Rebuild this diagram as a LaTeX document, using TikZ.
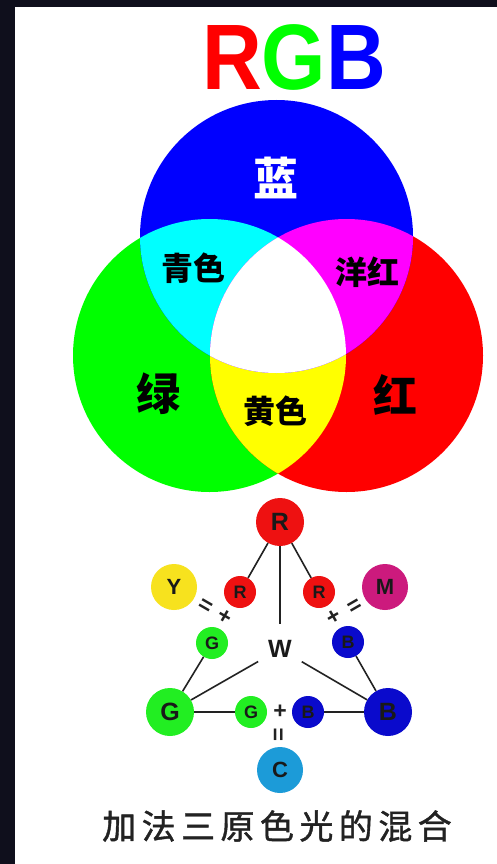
\documentclass[tikz,border=0pt]{standalone}
\usepackage{fontspec}
\setmainfont{Liberation Sans}
\newfontfamily\cjk{Noto Sans CJK SC}
\newfontfamily\cjkcap[LetterSpace=16, FakeBold=1.2]{Noto Sans CJK SC}
\usetikzlibrary{positioning}
\definecolor{cframe}{HTML}{0F0F1C}
\definecolor{cred}{HTML}{FF0000}
\definecolor{cgreen}{HTML}{00FF00}
\definecolor{cblue}{HTML}{0000FF}
\definecolor{ccyan}{HTML}{00FFFF}
\definecolor{cmag}{HTML}{FF00FF}
\definecolor{cyel}{HTML}{FFFF00}
\definecolor{dred}{HTML}{EE1111}
\definecolor{dgreen}{HTML}{22EE22}
\definecolor{dblue}{HTML}{0A0ACC}
\definecolor{dyel}{HTML}{F7E21E}
\definecolor{dmag}{HTML}{CC1A7D}
\definecolor{dcyan}{HTML}{1C9BD8}
\definecolor{cline}{HTML}{222222}
\newcommand{\fs}[1]{\fontsize{#1}{#1}\selectfont}
\tikzset{
  every picture/.style={x=1pt, y=-1pt},
  big/.style={circle, fill=#1, minimum size=48pt, inner sep=0pt, font=\fs{25}\bfseries, text=black!90},
  small/.style={circle, fill=#1, minimum size=32pt, inner sep=0pt, font=\fs{18}\bfseries, text=black!90},
  mix/.style={circle, fill=#1, minimum size=46pt, inner sep=0pt, font=\fs{22}\bfseries, text=black!90},
  op/.style={font=\fs{23}\bfseries, text=cline, inner sep=0pt},
  link/.style={draw=cline, line width=1.6pt},
  zh/.style={font=\cjk\bfseries\fs{#1}, inner sep=0pt},
}

\begin{document}
\begin{tikzpicture}
  \useasboundingbox (0,0) rectangle (497,864);
  \fill[white] (0,0) rectangle (497,864);
  \fill[cframe] (0,0) rectangle (497,7);
  \fill[cframe] (0,0) rectangle (15,864);
  % title
  \node[inner sep=0pt] (title) at (294,57) {\fs{93}\bfseries\scalebox{0.89}[1]{\textcolor{cred}{R}\textcolor{cgreen}{G}\textcolor{cblue}{B}}};
  % three circles, mixed by clipping
  \coordinate (cb) at (276.5,236.5);
  \coordinate (cg) at (209.5,355.5);
  \coordinate (cr) at (346.5,355.5);
  \fill[cgreen] (cg) circle (136.5);
  \fill[cred] (cr) circle (136.5);
  \fill[cblue] (cb) circle (136.5);
  \begin{scope}
    \clip (cg) circle (136.5);
    \fill[cyel] (cr) circle (136.5);
    \fill[ccyan] (cb) circle (136.5);
  \end{scope}
  \begin{scope}
    \clip (cr) circle (136.5);
    \fill[cmag] (cb) circle (136.5);
    \clip (cg) circle (136.5);
    \fill[white] (cb) circle (136.5);
  \end{scope}
  \node[zh=45, text=white] (lan) at (276,178) {蓝};
  \node[zh=44] (lv) at (158,394) {绿};
  \node[zh=44] (hong) at (395,395) {红};
  \node[zh=32] (qing) at (193,268) {青色};
  \node[zh=32] (yang) at (367,272) {洋红};
  \node[zh=32] (huang) at (275,411) {黄色};
  % triangle of primaries
  \node[big=dred] (R) at (280,522) {R};
  \node[big=dgreen] (G) at (170,712) {G};
  \node[big=dblue] (B) at (388,712) {B};
  \node[small=dred] (rg) at (240,592) {R};
  \node[small=dred] (rb) at (319,592) {R};
  \node[small=dgreen] (gr) at (212,643) {G};
  \node[small=dblue] (br) at (348,642) {B};
  \node[small=dgreen] (gb) at (251,712) {G};
  \node[small=dblue] (bg) at (308,712) {B};
  \node[mix=dyel] (Y) at (174,587) {Y};
  \node[mix=dmag] (M) at (385,587) {M};
  \node[mix=dcyan] (C) at (280,770) {C};
  \node[circle, minimum size=50pt, inner sep=0pt, font=\fs{25}\bfseries, text=black!90] (W) at (280,649) {W};
  \node[op, rotate=-30] (p1) at (225,617) {+};
  \node[op, rotate=-30] (e1) at (205,607) {=};
  \node[op, rotate=30] (p2) at (334,617) {+};
  \node[op, rotate=30] (e2) at (355,607) {=};
  \node[op] (p3) at (280,712) {+};
  \node[op, rotate=90] (e3) at (280,735) {=};
  \draw[link] (R) -- (rg);
  \draw[link] (R) -- (rb);
  \draw[link] (R) -- (W);
  \draw[link] (gr) -- (G);
  \draw[link] (br) -- (B);
  \draw[link] (W) -- (G);
  \draw[link] (W) -- (B);
  \draw[link] (G) -- (gb);
  \draw[link] (bg) -- (B);
  % caption
  \node[font=\cjkcap\fs{34}, text=cline, inner sep=0pt] (cap) at (277,826) {加法三原色光的混合};
\end{tikzpicture}
\end{document}
